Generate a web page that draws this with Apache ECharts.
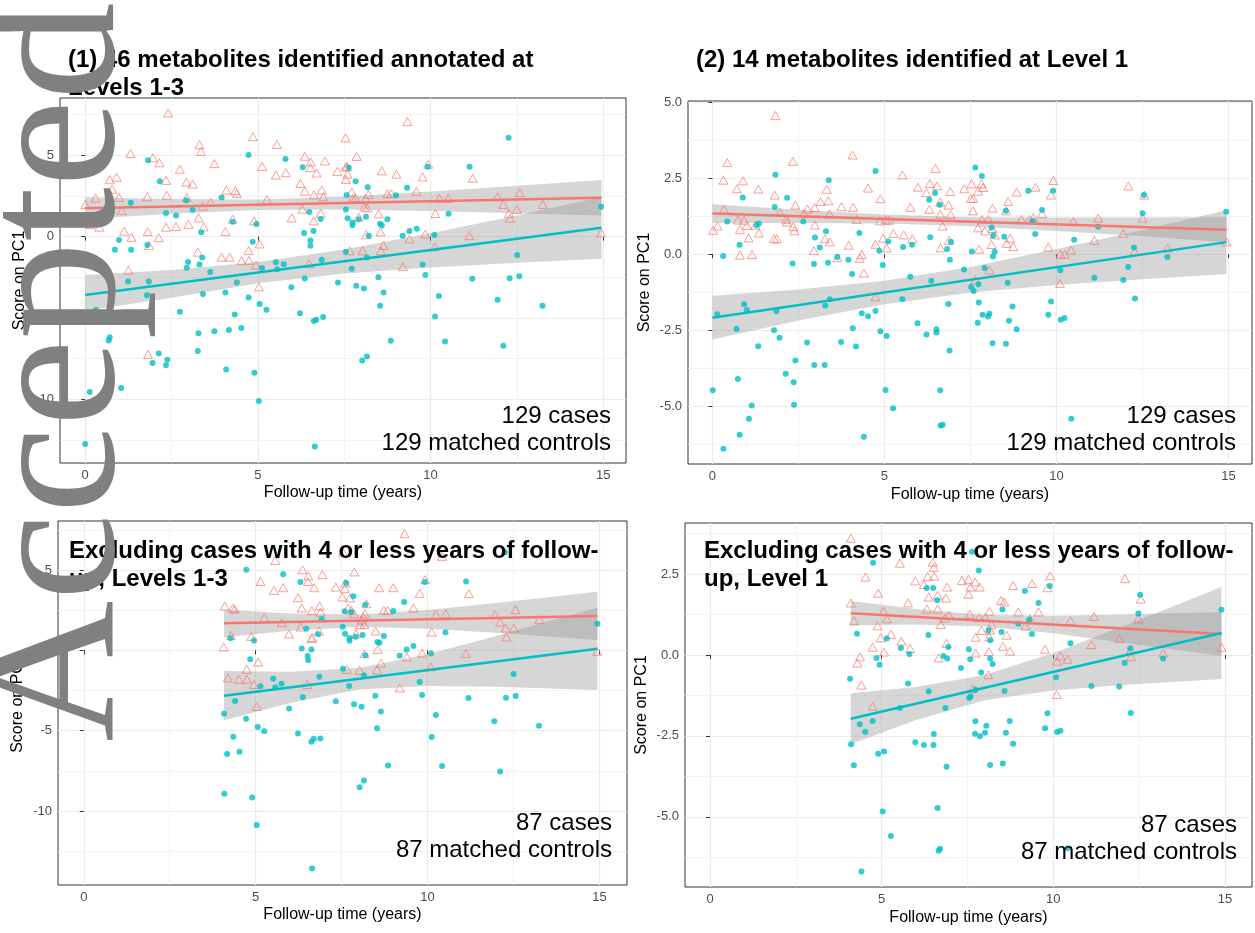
<!DOCTYPE html>
<html>
<head>
<meta charset="utf-8">
<script src="https://cdn.jsdelivr.net/npm/echarts@6.0.0/dist/echarts.min.js"></script>
<style>
html, body { margin: 0; padding: 0; background: #fff; }
#main { width: 1255px; height: 933px; }
</style>
</head>
<body>
<div id="main"></div>
<script>
// ---- data: [follow-up years, score on PC1] ----
var p1Cases = [[2.40,7.6],[4.86,6.14],[3.31,5.65],[3.35,5.24],[5.55,5.67],[1.31,5.11],[1.96,4.85],[2.15,4.54],[2.74,4.14],[3.74,4.49],[5.12,4.31],[0.71,3.5],[0.91,3.65],[0.78,2.91],[0.98,2.41],[0.30,2.37],[0.0,1.98],[1.80,2.45],[2.34,3.46],[2.36,2.55],[2.93,3.35],[3.11,3.23],[2.94,2.41],[3.40,1.87],[3.63,2.12],[4.09,2.86],[4.35,2.82],[4.39,2.65],[5.26,2.28],[5.52,3.79],[5.81,3.93],[6.36,4.94],[6.53,4.59],[6.52,4.24],[6.70,3.91],[6.94,4.65],[6.23,3.27],[6.36,2.80],[6.62,2.57],[6.85,2.86],[6.90,2.45],[7.30,4.01],[7.54,6.07],[7.55,4.28],[7.55,3.52],[6.29,1.69],[5.98,1.15],[6.82,1.44],[6.62,0.97],[1.06,1.60],[0.41,0.58],[0.15,0.74],[1.13,0.33],[1.34,-0.04],[1.81,0.31],[2.13,-0.06],[2.34,0.58],[2.63,0.62],[2.99,0.76],[3.28,1.15],[3.43,0.6],[4.06,0.31],[4.27,1.07],[4.89,0.97],[5.05,-0.45],[4.73,-0.86],[1.85,-0.54],[3.26,-0.95],[3.95,-1.26],[4.18,-1.26],[4.53,-1.48],[4.74,-1.46],[4.95,-1.75],[6.48,-1.65],[1.25,-2.06],[5.03,-3.09],[1.82,-7.24],
  [9.33,7.07],[7.58,4.31],[7.6,3.84],[7.86,4.93],[8.59,4.04],[9.01,3.84],[9.93,4.45],[9.77,3.67],[11.22,3.59],[7.72,2.74],[7.82,2.39],[7.74,2.35],[8.2,2.6],[8.12,2.35],[8.75,2.64],[8.86,2.64],[9.59,2.78],[10.25,2.35],[10.51,2.35],[11.94,2.45],[12.58,2.7],[12.11,1.98],[13.25,1.98],[10.14,1.42],[8.08,1.81],[8.16,1.77],[8.5,1.4],[7.92,1.2],[12.27,1.44],[12.5,1.67],[12.3,1.13],[14.94,0.23],[8.14,0.12],[8.55,0.29],[9.85,0.16],[11.12,0.06],[9.39,-0.14],[8.64,-0.54],[8.56,-0.87],[8.03,-0.87],[7.66,-0.87],[10.12,-0.62],[9.2,-1.84]];
var p1Controls = [[1.82,4.69],[4.73,5.02],[5.80,4.77],[6.30,4.26],[2.16,3.4],[3.95,2.41],[1.32,2.08],[2.93,2.24],[2.34,1.46],[2.63,1.3],[3.11,1.65],[4.27,0.91],[4.96,0.78],[6.49,1.52],[6.82,1.09],[3.36,0.27],[6.34,0.23],[6.61,0.35],[6.52,-0.23],[6.52,-0.56],[0.98,-0.21],[0.86,-0.80],[1.33,-0.80],[1.80,-0.51],[4.85,-0.31],[3.39,-1.28],[2.98,-1.56],[2.94,-1.91],[3.31,-1.71],[3.62,-2.18],[4.39,-2.82],[5.12,-1.93],[5.52,-1.58],[5.75,-1.69],[5.56,-2.0],[6.85,-1.42],[6.36,-2.57],[7.32,-2.82],[5.97,-3.11],[1.24,-2.76],[0.78,-2.78],[0.78,-3.21],[1.84,-2.76],[1.79,-3.6],[0.31,-4.51],[3.41,-3.52],[4.06,-3.44],[4.73,-3.74],[5.05,-4.14],[5.25,-4.49],[4.33,-4.79],[6.22,-4.71],[6.62,-5.19],[6.69,-5.1],[6.89,-4.94],[2.74,-4.61],[3.28,-5.93],[3.74,-5.82],[4.16,-5.74],[4.52,-5.62],[0.71,-6.19],[0.68,-6.38],[3.26,-7.02],[2.13,-7.18],[1.95,-7.76],[2.34,-7.9],[2.38,-7.57],[4.08,-8.17],[4.90,-8.37],[1.04,-9.3],[0.13,-9.55],[5.03,-10.1],[0.0,-12.74],[6.65,-12.9],
  [12.26,6.08],[7.63,4.25],[11.13,4.29],[9.92,4.29],[7.83,3.4],[8.18,3.03],[9.32,3.01],[9.0,2.54],[7.57,2.56],[7.55,1.67],[7.6,1.13],[7.92,1.07],[7.74,0.87],[7.74,0.70],[8.13,1.22],[8.54,0.8],[8.59,0.68],[8.75,1.07],[10.52,1.40],[14.94,1.84],[8.21,0.06],[9.19,0.06],[9.39,0.35],[9.6,0.49],[10.11,0.1],[7.55,-0.93],[8.16,-1.28],[7.72,-1.98],[9.77,-1.71],[9.85,-2.35],[12.51,-1.13],[8.49,-2.49],[11.21,-2.58],[12.29,-2.56],[12.57,-2.43],[7.85,-3.01],[8.07,-3.18],[8.64,-3.44],[10.24,-3.65],[8.54,-4.25],[11.94,-3.88],[13.24,-4.25],[10.13,-4.91],[8.85,-6.39],[10.42,-6.45],[12.11,-6.7],[8.02,-7.61],[8.16,-7.36]];

var p2Cases = [[1.83,4.57],[4.07,3.27],[0.43,3.02],[2.34,3.06],[6.48,2.83],[5.52,2.61],[0.32,2.44],[0.89,2.42],[0.71,2.16],[1.33,2.15],[1.81,1.95],[3.32,2.14],[4.52,2.18],[5.97,2.21],[6.32,2.33],[6.53,2.26],[6.22,2.03],[6.91,2.07],[7.32,2.16],[4.88,1.83],[3.14,1.74],[3.37,1.76],[2.41,1.62],[2.97,1.54],[2.76,1.49],[3.75,1.57],[4.09,1.55],[5.75,1.55],[6.30,1.48],[6.62,1.72],[6.86,1.62],[0.33,1.49],[0.15,0.93],[0.02,0.79],[0.74,1.13],[0.92,1.12],[1.0,0.95],[0.80,0.81],[1.25,0.96],[1.35,0.70],[1.05,0.54],[1.96,1.38],[2.14,1.15],[2.17,1.06],[2.35,0.91],[2.38,0.77],[1.79,0.51],[1.87,0.51],[2.66,1.35],[3.40,1.33],[2.98,0.96],[4.19,1.15],[4.86,1.10],[5.04,1.13],[5.13,1.12],[5.26,0.69],[4.96,0.53],[4.74,0.33],[5.06,0.21],[5.56,0.64],[5.81,0.51],[6.69,0.93],[6.62,1.32],[6.92,1.31],[6.88,0.46],[6.63,0.21],[3.27,0.51],[3.41,0.41],[2.95,0.12],[3.96,0.30],[3.63,-0.11],[4.34,-0.01],[4.28,-0.13],[4.40,-0.62],[0.80,-0.03],[1.15,-0.01],[4.74,-1.40],
  [7.53,2.32],[7.82,2.32],[7.72,2.08],[7.86,2.20],[7.51,1.84],[7.58,1.84],[7.57,1.43],[8.14,1.52],[8.59,1.74],[8.84,2.05],[9.39,2.21],[9.91,2.43],[9.84,1.95],[12.09,2.25],[12.55,1.95],[8.53,1.43],[7.83,1.15],[8.02,1.15],[8.98,1.15],[9.21,1.15],[9.33,1.21],[9.58,1.34],[10.49,1.08],[11.21,1.19],[12.5,1.19],[7.72,0.87],[7.92,0.77],[8.14,0.85],[8.2,0.64],[11.94,0.69],[11.10,0.46],[14.94,0.41],[8.55,0.36],[8.65,0.53],[8.74,0.25],[8.11,0.32],[7.75,0.17],[9.76,0.24],[10.11,0.0],[10.24,0.0],[10.42,0.14],[12.27,0.10],[13.23,0.21],[8.05,-0.52],[7.64,-0.84],[10.10,-0.96]];
var p2Controls = [[1.83,2.62],[4.74,2.74],[3.38,2.44],[0.88,1.87],[2.17,1.86],[1.81,1.56],[6.47,2.02],[6.30,1.80],[6.61,1.63],[0.43,1.08],[1.35,1.01],[1.28,0.96],[2.64,1.08],[3.30,0.76],[2.98,0.55],[4.27,0.70],[0.79,0.31],[3.12,0.22],[0.31,-0.06],[2.33,-0.30],[2.95,-0.32],[3.36,-0.28],[3.63,-0.09],[3.95,-0.18],[4.06,-0.65],[4.85,0.12],[5.11,0.42],[4.95,-0.35],[5.54,0.24],[5.80,0.31],[6.33,0.56],[6.93,0.41],[6.82,0.17],[6.90,-0.18],[7.54,0.09],[7.31,-0.50],[5.75,-0.74],[6.36,-0.87],[7.52,-1.08],[7.59,-1.21],[5.52,-1.48],[6.86,-1.64],[3.41,-1.48],[3.28,-1.69],[0.14,-1.98],[0.92,-1.65],[1.00,-1.84],[1.86,-1.88],[0.70,-2.46],[1.79,-2.50],[1.95,-2.75],[1.33,-3.03],[2.75,-2.91],[3.74,-2.89],[4.08,-2.44],[4.17,-3.04],[4.34,-1.94],[4.52,-2.04],[4.74,-1.87],[4.88,-2.54],[5.06,-2.69],[5.96,-2.27],[6.22,-2.64],[6.51,-2.47],[6.51,-2.58],[6.89,-3.17],[2.41,-3.50],[2.96,-3.65],[3.26,-3.65],[0.74,-4.11],[2.13,-3.94],[2.36,-4.22],[0.01,-4.48],[5.03,-4.47],[6.62,-4.48],[1.14,-4.98],[2.37,-4.96],[5.25,-5.07],[1.06,-5.42],[0.79,-5.95],[0.32,-6.41],[4.40,-6.01],[6.63,-5.64],[6.69,-5.62],
  [7.64,2.86],[7.83,2.58],[9.18,2.09],[9.90,2.09],[12.54,1.95],[8.53,1.43],[9.58,1.46],[9.31,1.10],[12.5,1.35],[14.93,1.40],[9.38,0.67],[8.48,0.58],[10.51,0.48],[11.21,0.91],[8.11,0.87],[8.16,0.62],[8.2,0.08],[8.15,-0.07],[12.25,0.22],[7.91,-0.45],[10.11,-0.53],[12.08,-0.42],[13.22,-0.09],[8.58,-0.94],[11.10,-0.77],[11.94,-0.85],[7.73,-0.99],[7.74,-1.59],[12.28,-1.46],[9.84,-1.56],[8.72,-1.72],[7.85,-1.99],[8.01,-2.05],[8.05,-1.96],[7.71,-2.26],[8.62,-2.19],[8.84,-2.47],[9.76,-1.99],[10.12,-2.16],[10.23,-2.10],[8.14,-2.93],[8.53,-2.95],[10.43,-5.42]];

var p3Cases = [[9.33,7.26],[5.57,5.6],[7.54,6.1],[10.42,5.85],[6.36,5.02],[6.53,4.63],[6.52,4.29],[6.94,4.71],[7.87,4.88],[5.14,4.29],[5.53,3.73],[5.80,3.90],[6.70,3.90],[6.23,3.28],[7.33,3.94],[7.59,3.84],[7.61,4.19],[7.52,3.32],[7.74,3.26],[8.59,3.90],[9.0,3.90],[9.93,4.40],[9.77,3.55],[11.20,3.53],[4.10,2.76],[4.33,2.63],[4.39,2.57],[5.25,2.03],[6.34,2.63],[6.63,2.47],[6.86,2.76],[6.89,2.37],[7.68,2.63],[7.78,2.49],[7.86,2.28],[8.13,2.07],[8.18,2.28],[8.22,2.90],[8.73,2.49],[8.84,2.49],[9.59,2.63],[10.24,2.24],[10.53,2.28],[11.96,2.22],[12.11,1.76],[12.56,2.53],[13.25,1.93],[12.51,1.39],[12.27,1.39],[12.29,0.83],[5.76,1.72],[6.31,1.45],[5.97,1.02],[6.84,1.20],[6.62,0.73],[6.65,0.79],[8.03,1.6],[8.16,1.6],[8.08,1.89],[7.92,1.02],[8.49,1.20],[10.12,1.14],[4.28,0.93],[4.87,0.87],[4.07,0.21],[8.16,-0.21],[8.55,0.06],[9.40,-0.41],[9.84,-0.17],[11.11,-0.19],[14.93,-0.06],[5.07,-0.73],[4.74,-1.18],[8.65,-0.79],[8.53,-1.22],[8.02,-1.24],[7.65,-1.18],[10.09,-1.02],[4.19,-1.70],[4.51,-1.80],[4.74,-1.80],[4.95,-2.12],[6.50,-2.12],[9.19,-2.34],[5.03,-3.49]];
var p3Controls = [[4.73,5.02],[5.80,4.73],[6.30,4.25],[7.63,4.19],[9.92,4.25],[11.12,4.29],[7.84,3.36],[9.32,3.01],[8.19,2.84],[9.0,2.45],[7.59,2.43],[7.78,2.39],[6.92,1.93],[6.47,1.35],[6.82,1.0],[7.53,1.47],[7.60,1.04],[7.73,0.77],[7.73,0.60],[7.91,0.85],[8.11,0.95],[8.73,0.89],[8.54,0.52],[8.60,0.48],[10.52,1.12],[14.94,1.66],[4.27,0.75],[4.95,0.62],[6.34,0.12],[6.62,0.06],[6.51,-0.35],[6.53,-0.62],[9.59,0.27],[9.39,0.06],[9.19,-0.33],[8.19,-0.31],[10.10,-0.19],[4.84,-0.56],[7.54,-1.14],[5.51,-1.76],[5.75,-2.07],[5.57,-2.30],[5.14,-2.24],[6.85,-1.64],[7.72,-2.22],[8.15,-1.56],[9.77,-1.97],[12.50,-1.47],[4.40,-3.15],[4.08,-3.94],[4.72,-4.25],[5.06,-4.77],[5.25,-5.04],[5.97,-3.61],[6.37,-2.90],[6.23,-5.17],[6.62,-5.68],[6.69,-5.50],[6.88,-5.48],[7.33,-3.17],[7.86,-3.36],[8.08,-3.51],[8.48,-2.82],[8.64,-3.80],[8.53,-4.85],[9.84,-2.78],[10.24,-4.02],[10.12,-5.39],[11.19,-2.97],[12.28,-2.95],[12.56,-2.84],[11.94,-4.41],[13.24,-4.69],[4.35,-5.37],[4.17,-6.45],[4.53,-6.31],[4.09,-8.92],[4.90,-9.15],[5.03,-10.87],[8.02,-8.51],[8.15,-8.10],[8.85,-7.17],[10.42,-7.19],[12.11,-7.54],[6.64,-13.58],[12.25,6.1]];

var p4Cases = [[4.10,3.61],[4.53,2.41],[5.53,2.84],[6.49,2.87],[6.52,2.71],[4.90,1.91],[5.98,2.29],[6.23,2.18],[6.34,2.43],[6.53,2.44],[6.37,1.79],[6.63,1.85],[6.91,2.10],[6.87,1.76],[7.34,2.30],[7.53,2.34],[7.72,2.26],[7.59,2.10],[7.86,2.10],[7.53,1.88],[8.83,2.15],[9.38,2.21],[9.91,2.45],[9.83,2.08],[8.48,1.69],[8.57,1.64],[12.09,2.36],[12.55,1.73],[4.10,1.61],[4.19,1.06],[5.05,1.35],[5.15,1.12],[4.88,0.90],[5.77,1.61],[6.32,1.42],[6.63,1.42],[6.72,0.95],[6.84,1.14],[6.96,1.23],[7.57,1.26],[7.84,1.16],[8.02,1.16],[8.14,1.35],[8.20,0.94],[8.16,0.77],[7.91,0.76],[7.74,0.55],[8.13,0.56],[8.98,1.33],[9.57,1.33],[8.64,0.61],[9.18,0.90],[9.32,1.12],[10.50,1.06],[11.19,1.19],[12.48,1.12],[5.27,0.64],[4.97,0.53],[5.57,0.43],[5.83,0.20],[5.07,0.09],[4.74,0.24],[4.37,-0.06],[4.29,-0.25],[4.41,-0.93],[6.66,-0.09],[6.89,0.36],[7.74,0.06],[8.12,0.11],[8.53,0.27],[8.74,0.12],[8.11,-0.61],[7.65,-1.04],[9.76,0.18],[10.11,-0.19],[10.21,-0.03],[10.42,-0.13],[11.11,0.32],[11.92,0.51],[12.27,0.18],[12.27,-0.05],[13.20,0.06],[14.90,0.24],[4.74,-1.58],[10.10,-1.22]];
var p4Controls = [[4.75,2.85],[7.63,3.19],[7.83,2.61],[6.31,2.07],[6.50,2.07],[6.62,1.69],[9.17,1.98],[9.90,2.13],[9.57,1.61],[8.52,1.41],[12.53,1.86],[12.48,1.28],[14.90,1.40],[4.28,0.66],[5.15,0.51],[6.36,0.62],[5.56,0.22],[5.81,0.03],[6.94,0.25],[6.80,-0.03],[6.91,-0.11],[7.54,0.18],[7.58,-0.13],[7.31,-0.40],[8.11,0.76],[8.16,0.46],[8.49,0.71],[9.30,1.09],[9.38,0.65],[8.98,0.97],[10.50,0.36],[8.16,-0.11],[8.23,-0.28],[7.90,-0.54],[4.85,-0.09],[4.94,-0.30],[4.08,-0.73],[5.77,-0.88],[12.24,0.20],[12.08,-0.25],[13.20,-0.11],[10.08,-0.69],[11.11,-0.96],[11.92,-0.97],[6.37,-1.12],[7.59,-1.28],[7.55,-1.33],[8.58,-1.11],[7.73,-1.07],[6.86,-1.64],[5.53,-1.64],[12.26,-1.79],[4.36,-2.14],[4.52,-2.37],[4.74,-2.04],[4.11,-2.76],[4.19,-3.41],[4.90,-3.05],[5.07,-2.98],[5.98,-2.70],[6.23,-2.78],[6.52,-2.44],[6.51,-2.78],[6.89,-3.45],[7.73,-2.05],[8.05,-2.19],[7.72,-2.43],[7.86,-2.51],[8.01,-2.40],[8.62,-2.40],[8.73,-2.04],[8.83,-2.74],[8.16,-3.40],[8.53,-3.35],[9.83,-1.80],[9.76,-2.26],[10.11,-2.38],[10.21,-2.34],[5.03,-4.84],[5.27,-5.59],[6.63,-4.73],[6.66,-6.05],[6.70,-5.99],[4.41,-6.69],[10.41,-5.97]];

// fitted lines (end points) and 95% bands read at a few x positions
var p1FitX = [0, 14.95];
var p1CaseFit = [1.75, 2.39];
var p1CtrlFit = [-3.59, 0.54];
var p1BandX = [0, 2.5, 5, 7.5, 10, 12.5, 14.95];
var p1CaseLo = [1.08, 1.41, 1.63, 1.67, 1.58, 1.44, 1.30];
var p1CaseHi = [2.42, 2.31, 2.29, 2.47, 2.78, 3.12, 3.48];
var p1CtrlLo = [-4.55, -3.75, -2.86, -2.27, -1.89, -1.60, -1.36];
var p1CtrlHi = [-2.35, -2.05, -1.56, -0.79, 0.21, 1.30, 2.44];

var p2FitX = [0, 14.94];
var p2CaseFit = [1.34, 0.81];
var p2CtrlFit = [-2.09, 0.40];
var p2BandX = [0, 2.5, 5, 7.5, 10, 12.5, 14.94];
var p2CaseLo = [1.03, 1.03, 1.01, 0.92, 0.77, 0.59, 0.40];
var p2CaseHi = [1.65, 1.47, 1.31, 1.22, 1.21, 1.21, 1.22];
var p2CtrlLo = [-2.81, -2.18, -1.65, -1.26, -1.01, -0.82, -0.65];
var p2CtrlHi = [-1.37, -1.16, -0.87, -0.42, 0.17, 0.80, 1.45];

var p3FitX = [4.08, 14.94];
var p3CaseFit = [1.68, 2.14];
var p3CtrlFit = [-2.82, 0.10];
var p3BandX = [4.08, 6, 8, 10, 12, 14.94];
var p3CaseLo = [0.82, 1.22, 1.47, 1.35, 1.09, 0.64];
var p3CaseHi = [2.54, 2.30, 2.23, 2.51, 2.95, 3.64];
var p3CtrlLo = [-4.35, -3.27, -2.44, -2.22, -2.27, -2.46];
var p3CtrlHi = [-1.29, -1.33, -1.10, -0.24, 0.89, 2.66];

var p4FitX = [4.10, 14.90];
var p4CaseFit = [1.29, 0.65];
var p4CtrlFit = [-1.97, 0.68];
var p4BandX = [4.10, 6, 8, 10, 12, 14.90];
var p4CaseLo = [0.91, 0.94, 0.88, 0.67, 0.39, -0.03];
var p4CaseHi = [1.67, 1.42, 1.24, 1.21, 1.25, 1.33];
var p4CtrlLo = [-2.76, -2.01, -1.40, -1.10, -0.93, -0.74];
var p4CtrlHi = [-1.18, -0.99, -0.62, 0.06, 0.87, 2.10];

var xTicks = [0, 5, 10, 15];
var yTicksWide = [5, 0, -5, -10];
var yTicksNarrow = [5, 2.5, 0, -2.5, -5];

var titles = [
  ['(1) 46 metabolites identified annotated at', 'Levels 1-3'],
  ['(2) 14 metabolites identified at Level 1'],
  ['Excluding cases with 4 or less years of follow-', 'up, Levels 1-3'],
  ['Excluding cases with 4 or less years of follow-', 'up, Level 1']
];
var notes = [
  ['129 cases', '129 matched controls'],
  ['129 cases', '129 matched controls'],
  ['87 cases', '87 matched controls'],
  ['87 cases', '87 matched controls']
];

// ---- layout ----
var panels = [
  {left: 60, top: 98, width: 566, height: 365, xr: [-0.73, 15.66], yr: [-13.91, 8.52], step: 5, ticks: yTicksWide, dec: 0,
   cases: p1Cases, ctrls: p1Controls, fitX: p1FitX, caseFit: p1CaseFit, ctrlFit: p1CtrlFit,
   bandX: p1BandX, caseLo: p1CaseLo, caseHi: p1CaseHi, ctrlLo: p1CtrlLo, ctrlHi: p1CtrlHi,
   yGap: 32, xGap: 22, titleX: 68, titleY: 60, noteX: 611, noteY: 416},
  {left: 688, top: 101, width: 564, height: 363, xr: [-0.71, 15.68], yr: [-6.91, 5.05], step: 2.5, ticks: yTicksNarrow, dec: 1,
   cases: p2Cases, ctrls: p2Controls, fitX: p2FitX, caseFit: p2CaseFit, ctrlFit: p2CtrlFit,
   bandX: p2BandX, caseLo: p2CaseLo, caseHi: p2CaseHi, ctrlLo: p2CtrlLo, ctrlHi: p2CtrlHi,
   yGap: 35, xGap: 23, titleX: 696, titleY: 60, noteX: 1236, noteY: 416},
  {left: 58, top: 521, width: 569, height: 364, xr: [-0.75, 15.8], yr: [-14.6, 8.05], step: 5, ticks: yTicksWide, dec: 0,
   cases: p3Cases, ctrls: p3Controls, fitX: p3FitX, caseFit: p3CaseFit, ctrlFit: p3CtrlFit,
   bandX: p3BandX, caseLo: p3CaseLo, caseHi: p3CaseHi, ctrlLo: p3CtrlLo, ctrlHi: p3CtrlHi,
   yGap: 32, xGap: 22, titleX: 69, titleY: 551, noteX: 612, noteY: 823},
  {left: 685, top: 523, width: 567, height: 364, xr: [-0.73, 15.79], yr: [-7.17, 4.08], step: 2.5, ticks: yTicksNarrow, dec: 1,
   cases: p4Cases, ctrls: p4Controls, fitX: p4FitX, caseFit: p4CaseFit, ctrlFit: p4CtrlFit,
   bandX: p4BandX, caseLo: p4CaseLo, caseHi: p4CaseHi, ctrlLo: p4CtrlLo, ctrlHi: p4CtrlHi,
   yGap: 35, xGap: 23, titleX: 704, titleY: 551, noteX: 1237, noteY: 825}
];

var caseColor = '#F8766D';
var ctrlColor = '#00BFC4';
var bandFill = 'rgba(153,153,153,0.4)';
var sans = 'Liberation Sans';
var serif = '"Liberation Serif", "DejaVu Serif", "Times New Roman", serif';

function bandSeries(i, xs, lo, hi) {
  return {
    type: 'custom', xAxisIndex: i, yAxisIndex: i, silent: true,
    data: xs.map(function (x, k) { return [x, lo[k], hi[k]]; }),
    encode: {x: 0, y: [1, 2]},
    renderItem: function (params, api) {
      if (params.dataIndex !== 0) return null;
      var pts = [];
      for (var k = 0; k < xs.length; k++) pts.push(api.coord([xs[k], hi[k]]));
      for (var k2 = xs.length - 1; k2 >= 0; k2--) pts.push(api.coord([xs[k2], lo[k2]]));
      return {type: 'polygon', shape: {points: pts}, style: {fill: bandFill}};
    }
  };
}

function fitSeries(i, xs, ys, color) {
  return {
    type: 'line', xAxisIndex: i, yAxisIndex: i, silent: true,
    data: xs.map(function (x, k) { return [x, ys[k]]; }),
    symbol: 'none', lineStyle: {color: color, width: 2.5}
  };
}

function textEl(x, y, str, family, size, weight, align, color, z, rot) {
  return {type: 'text', x: x, y: y, z: z, rotation: rot || 0,
    style: {legacy: false, text: str, fontFamily: family, fontSize: size, fontWeight: weight,
      fill: color, align: align, verticalAlign: 'middle'}};
}

var grids = [], xAxes = [], yAxes = [], series = [], graphics = [];

panels.forEach(function (p, i) {
  grids.push({left: p.left, top: p.top, width: p.width, height: p.height,
    show: true, borderColor: '#333', borderWidth: 1, backgroundColor: '#fff', containLabel: false});

  xAxes.push({
    gridIndex: i, type: 'value', min: p.xr[0], max: p.xr[1], minInterval: 5, maxInterval: 5,
    name: 'Follow-up time (years)', nameLocation: 'middle', nameGap: p.xGap,
    nameTextStyle: {color: '#000', fontSize: 16, fontFamily: sans},
    axisLine: {show: false},
    axisTick: {show: true, length: 4, lineStyle: {color: '#333'}, customValues: xTicks},
    axisLabel: {color: '#4d4d4d', fontSize: 13, margin: 6, fontFamily: sans, customValues: xTicks},
    splitLine: {show: true, lineStyle: {color: '#ebebeb', width: 1.2}},
    minorTick: {show: false, splitNumber: 2},
    minorSplitLine: {show: true, lineStyle: {color: '#f0f0f0', width: 0.8}}
  });

  yAxes.push({
    gridIndex: i, type: 'value', min: p.yr[0], max: p.yr[1], minInterval: p.step, maxInterval: p.step,
    name: 'Score on PC1', nameLocation: 'middle', nameGap: p.yGap, nameRotate: 90,
    nameTextStyle: {color: '#000', fontSize: 16, fontFamily: sans},
    axisLine: {show: false},
    axisTick: {show: true, length: 4, lineStyle: {color: '#333'}, customValues: p.ticks},
    axisLabel: {color: '#4d4d4d', fontSize: 13, margin: 6, fontFamily: sans, customValues: p.ticks,
      formatter: (function (d) { return function (v) { return v.toFixed(d); }; })(p.dec)},
    splitLine: {show: true, lineStyle: {color: '#ebebeb', width: 1.2}},
    minorTick: {show: false, splitNumber: 2},
    minorSplitLine: {show: true, lineStyle: {color: '#f0f0f0', width: 0.8}}
  });

  series.push({
    type: 'scatter', xAxisIndex: i, yAxisIndex: i, data: p.cases, silent: true,
    symbol: 'triangle', symbolSize: [9, 8],
    itemStyle: {color: 'rgba(0,0,0,0)', borderColor: caseColor, borderWidth: 0.9}
  });
  series.push({
    type: 'scatter', xAxisIndex: i, yAxisIndex: i, data: p.ctrls, silent: true,
    symbol: 'circle', symbolSize: 6,
    itemStyle: {color: ctrlColor}
  });
  series.push(bandSeries(i, p.bandX, p.caseLo, p.caseHi));
  series.push(fitSeries(i, p.fitX, p.caseFit, caseColor));
  series.push(bandSeries(i, p.bandX, p.ctrlLo, p.ctrlHi));
  series.push(fitSeries(i, p.fitX, p.ctrlFit, ctrlColor));

  titles[i].forEach(function (line, k) {
    graphics.push(textEl(p.titleX, p.titleY + k * 28, line, sans, 24, 'bold', 'left', '#000', 50));
  });
  notes[i].forEach(function (line, k) {
    graphics.push(textEl(p.noteX, p.noteY + k * 27, line, sans, 24, 'normal', 'right', '#000', 50));
  });
});

// the big rotated stamp running up the left edge
graphics.push(textEl(62, 742, 'Accepted', serif, 196, 'normal', 'left', '#808080', 100, Math.PI / 2));

var option = {
  backgroundColor: '#fff',
  animation: false,
  grid: grids,
  xAxis: xAxes,
  yAxis: yAxes,
  series: series,
  graphic: {elements: graphics}
};

var myChart = echarts.init(document.getElementById('main'));
myChart.setOption(option);
</script>
</body>
</html>
